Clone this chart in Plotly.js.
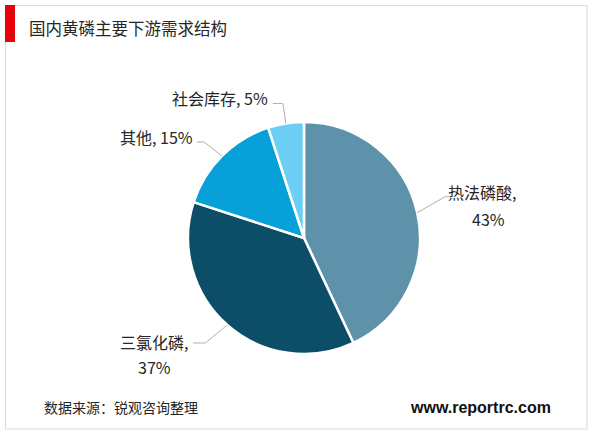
<!DOCTYPE html>
<html><head><meta charset="utf-8">
<script src="https://cdn.plot.ly/plotly-3.0.1.min.js"></script>
<style>html,body{margin:0;padding:0;background:#fff}#chart{width:600px;height:433px}</style>
</head><body><div id="chart"></div>
<script>
const chartTitle = '国内黄磷主要下游需求结构';
const categories = ['热法磷酸', '三氯化磷', '其他', '社会库存'];
const values = [43, 37, 15, 5];
const colors = ['#5e92aa', '#0c4e68', '#07a0d8', '#6dcef5'];
const sourceText = '数据来源：锐观咨询整理';
const siteText = 'www.reportrc.com';

const W = 600, H = 433, cx = 304, cy = 238, R = 116;
const px = x => x / W, py = y => 1 - y / H;
const cjk = '"Microsoft YaHei", "Noto Sans CJK SC", sans-serif';

// label geometry relative to the slice edge point (pixels)
const labelCfg = [
  {elbow: [28, -16], end: [4, 0], twoLine: true, name: [37, -5], pct: [43, 22]},
  {elbow: [-22, 18], end: [-12, 0], twoLine: true, name: [-51, -1], pct: [-51, 24]},
  {elbow: [-18, -14], end: [-7, 0], twoLine: false, name: [-9, -5]},
  {elbow: [-3, -20], end: [-10, 0], twoLine: false, name: [-13, -5]}
];

const total = values.reduce((a, b) => a + b, 0);
let cum = 0;
const shapes = [
  {type: 'rect', xref: 'paper', yref: 'paper', x0: px(5.5), x1: px(587), y0: py(5.5), y1: py(429),
   line: {color: '#dcdcdc', width: 1.2}, fillcolor: 'rgba(0,0,0,0)'},
  {type: 'rect', xref: 'paper', yref: 'paper', x0: px(5), x1: px(15), y0: py(5), y1: py(42),
   line: {width: 0}, fillcolor: '#e8000b'}
];
const annotations = [
  {text: chartTitle, xref: 'paper', yref: 'paper', x: px(27), y: py(27.5), xanchor: 'left', yanchor: 'middle',
   showarrow: false, font: {family: cjk, size: 16.5, color: '#262626'}},
  {text: sourceText, xref: 'paper', yref: 'paper', x: px(42), y: py(407), xanchor: 'left', yanchor: 'middle',
   showarrow: false, font: {family: cjk, size: 14, color: '#262626'}},
  {text: '<b>' + siteText + '</b>', xref: 'paper', yref: 'paper', x: px(553), y: py(407), xanchor: 'right', yanchor: 'middle',
   showarrow: false, font: {family: 'Arial, "Liberation Sans", sans-serif', size: 16, color: '#111'}}
];

values.forEach((v, i) => {
  const th = 2 * Math.PI * (cum + v / 2) / total;
  cum += v;
  const ex = cx + R * Math.sin(th), ey = cy - R * Math.cos(th);
  const c = labelCfg[i];
  const bx = ex + c.elbow[0], by = ey + c.elbow[1];
  const fx = bx + c.end[0], fy = by + c.end[1];
  shapes.push({type: 'path', xref: 'paper', yref: 'paper',
    path: `M ${px(ex)} ${py(ey)} L ${px(bx)} ${py(by)} L ${px(fx)} ${py(fy)}`,
    line: {color: '#b0b0b0', width: 1}});
  const pct = Math.round(v / total * 100) + '%';
  const font = {family: cjk, size: 16, color: '#262626'};
  if (c.twoLine) {
    annotations.push({text: categories[i] + ',', xref: 'paper', yref: 'paper', x: px(bx + c.name[0]), y: py(by + c.name[1]),
      xanchor: 'center', yanchor: 'middle', showarrow: false, font});
    annotations.push({text: pct, xref: 'paper', yref: 'paper', x: px(bx + c.pct[0]), y: py(by + c.pct[1]),
      xanchor: 'center', yanchor: 'middle', showarrow: false, font});
  } else {
    annotations.push({text: categories[i] + ', ' + pct, xref: 'paper', yref: 'paper', x: px(bx + c.name[0]), y: py(by + c.name[1]),
      xanchor: 'right', yanchor: 'middle', showarrow: false, font});
  }
});

const trace = {
  type: 'pie', labels: categories, values: values, sort: false, direction: 'clockwise', rotation: 0,
  textinfo: 'none', hoverinfo: 'none', showlegend: false,
  marker: {colors: colors, line: {color: '#ffffff', width: 2.5}},
  domain: {x: [px(cx - R), px(cx + R)], y: [py(cy + R), py(cy - R)]}
};

Plotly.newPlot('chart', [trace], {
  width: W, height: H, margin: {l: 0, r: 0, t: 0, b: 0},
  paper_bgcolor: '#fff', plot_bgcolor: '#fff',
  shapes: shapes, annotations: annotations
}, {staticPlot: true});
</script></body></html>
